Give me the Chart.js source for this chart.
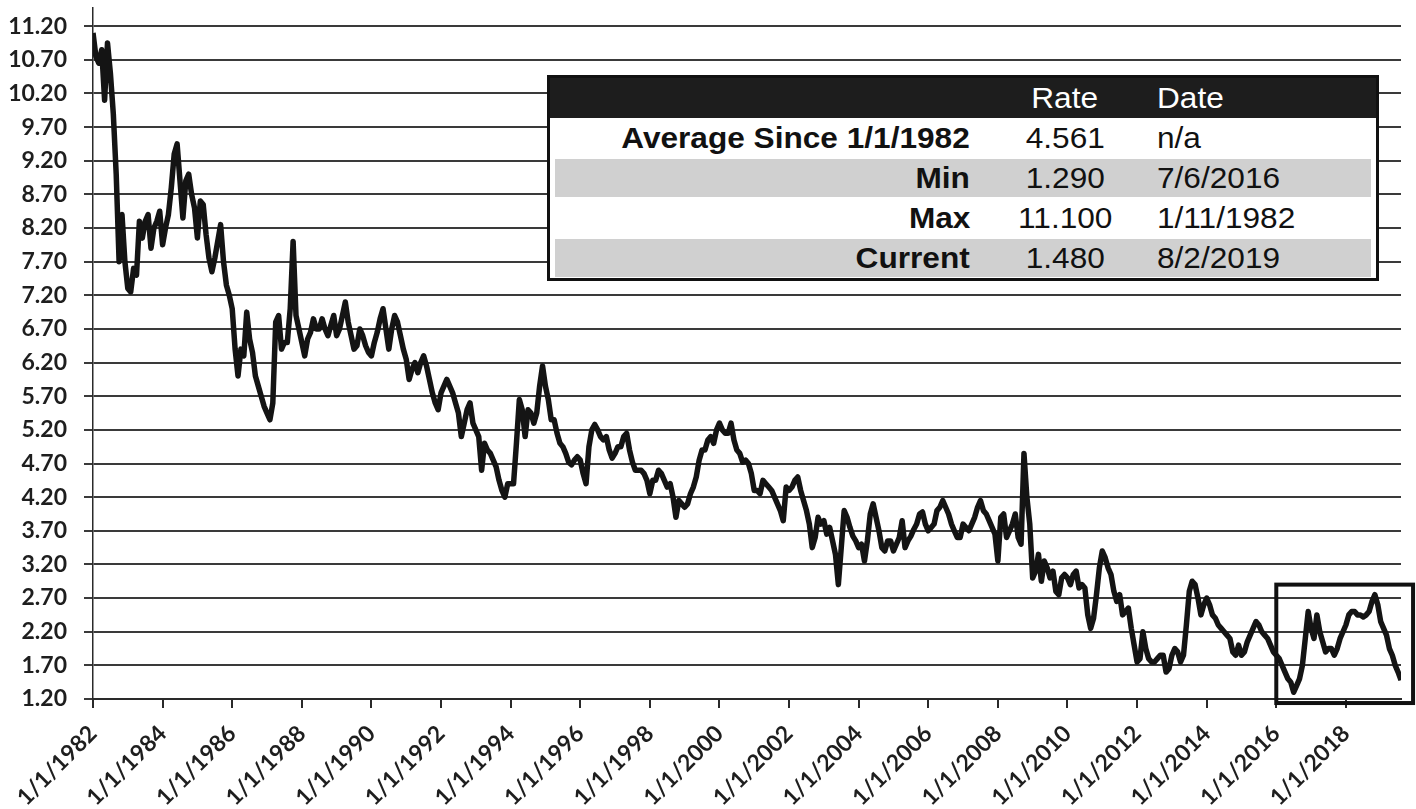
<!DOCTYPE html>
<html>
<head>
<meta charset="utf-8">
<script src="https://cdn.jsdelivr.net/npm/chart.js@4.4.1/dist/chart.umd.min.js"></script>
<style>
  html, body { margin: 0; padding: 0; background: #fff; }
  #wrap { position: relative; width: 1416px; height: 809px; }
  #stats {
    position: absolute; left: 547px; top: 75px; width: 832px; height: 206px;
    border: 3px solid #111; box-sizing: border-box; background: #fff;
    font-family: "Liberation Sans", Arial, sans-serif; font-size: 29px; color: #111;
  }
  .row { position: relative; height: 40px; line-height: 40px; }
  .row.head { background: #1d1d1d; color: #fff; }
  .band { position: absolute; left: 5px; right: 5px; top: 1px; bottom: 1px; background: #d0d0d0; }
  .cell { position: absolute; top: 0; white-space: nowrap; }
  .cell span { display: inline-block; transform: scaleX(1.09); }
  .lab { left: 0; width: 420px; text-align: right; font-weight: bold; }
  .lab span { transform-origin: right center; }
  .rate { left: 465px; width: 100px; text-align: center; }
  .date { left: 607px; }
  .date span { transform-origin: left center; }
</style>
</head>
<body>
<div id="wrap">
  <canvas id="myChart" width="1416" height="809"></canvas>
  <div id="stats"></div>
</div>
<script>
// monthly readings, Jan 1982 .. Aug 2019
var startYear = 1982;
var rates = [
  11.1, 10.75, 10.65, 10.85, 10.1, 10.95, 10.5, 9.9, 9.0, 7.7, 8.4, 7.7,
  7.3, 7.25, 7.6, 7.5, 8.3, 8.05, 8.3, 8.4, 7.9, 8.2, 8.3, 8.45,
  7.95, 8.2, 8.4, 8.8, 9.3, 9.45, 8.9, 8.35, 8.9, 9.0, 8.7, 8.5,
  8.05, 8.6, 8.55, 8.1, 7.75, 7.55, 7.75, 8.0, 8.25, 7.7, 7.35, 7.2,
  7.0, 6.4, 6.0, 6.4, 6.3, 6.95, 6.55, 6.35, 6.0, 5.85, 5.7, 5.55,
  5.45, 5.35, 5.6, 6.8, 6.9, 6.4, 6.5, 6.5, 7.0, 8.0, 6.9, 6.7,
  6.5, 6.3, 6.55, 6.65, 6.85, 6.7, 6.7, 6.85, 6.7, 6.6, 6.75, 6.9,
  6.6, 6.7, 6.9, 7.1, 6.8, 6.6, 6.4, 6.45, 6.7, 6.6, 6.45, 6.35,
  6.3, 6.5, 6.65, 6.85, 7.0, 6.7, 6.4, 6.7, 6.9, 6.8, 6.6, 6.4,
  6.25, 5.95, 6.1, 6.2, 6.05, 6.2, 6.3, 6.15, 5.95, 5.75, 5.6, 5.5,
  5.75, 5.85, 5.95, 5.85, 5.75, 5.6, 5.45, 5.1, 5.3, 5.5, 5.6, 5.3,
  5.2, 5.1, 4.6, 5.0, 4.9, 4.85, 4.75, 4.65, 4.45, 4.3, 4.2, 4.4,
  4.4, 4.4, 5.0, 5.65, 5.5, 5.1, 5.5, 5.45, 5.3, 5.45, 5.85, 6.15,
  5.85, 5.65, 5.35, 5.35, 5.15, 5.0, 4.95, 4.85, 4.72, 4.68, 4.75, 4.8,
  4.75, 4.55, 4.4, 4.95, 5.2, 5.28, 5.2, 5.1, 5.05, 5.1, 4.9, 4.78,
  4.85, 4.95, 4.95, 5.1, 5.15, 4.9, 4.72, 4.6, 4.6, 4.6, 4.55, 4.45,
  4.25, 4.45, 4.45, 4.6, 4.55, 4.45, 4.35, 4.4, 4.2, 3.9, 4.15, 4.1,
  4.05, 4.1, 4.25, 4.35, 4.5, 4.75, 4.9, 4.9, 5.05, 5.1, 5.0, 5.2,
  5.3, 5.2, 5.15, 5.15, 5.3, 5.05, 4.9, 4.85, 4.72, 4.75, 4.7, 4.55,
  4.3, 4.3, 4.25, 4.45, 4.4, 4.35, 4.3, 4.2, 4.1, 4.0, 3.85, 4.35,
  4.3, 4.35, 4.45, 4.5, 4.3, 4.15, 4.0, 3.8, 3.45, 3.6, 3.9, 3.8,
  3.85, 3.65, 3.75, 3.55, 3.35, 2.9, 3.45, 4.0, 3.9, 3.75, 3.62, 3.55,
  3.45, 3.5, 3.25, 3.55, 3.95, 4.1, 3.9, 3.7, 3.45, 3.4, 3.55, 3.55,
  3.4, 3.5, 3.6, 3.85, 3.45, 3.55, 3.62, 3.72, 3.8, 3.95, 3.98, 3.8,
  3.7, 3.75, 3.8, 4.0, 4.05, 4.15, 4.05, 3.95, 3.8, 3.7, 3.6, 3.6,
  3.8, 3.75, 3.7, 3.8, 3.9, 4.05, 4.15, 4.0, 3.95, 3.85, 3.75, 3.65,
  3.25, 3.9, 3.95, 3.6, 3.7, 3.8, 3.95, 3.6, 3.5, 4.85, 4.2, 3.8,
  3.0, 3.1, 3.35, 2.95, 3.25, 3.15, 3.0, 3.1, 2.8, 2.75, 3.0, 3.05,
  3.0, 2.9, 3.05, 3.1, 2.85, 2.9, 2.85, 2.45, 2.25, 2.4, 2.75, 3.15,
  3.4, 3.3, 3.15, 3.05, 2.8, 2.65, 2.75, 2.45, 2.5, 2.55, 2.25, 2.0,
  1.75, 1.8, 2.2, 1.95, 1.8, 1.75, 1.75, 1.8, 1.85, 1.85, 1.6, 1.65,
  1.85, 1.95, 1.9, 1.75, 1.85, 2.3, 2.8, 2.95, 2.9, 2.7, 2.45, 2.6,
  2.7, 2.6, 2.45, 2.4, 2.3, 2.25, 2.2, 2.15, 2.1, 1.9, 1.85, 2.0,
  1.85, 1.9, 2.05, 2.15, 2.25, 2.35, 2.3, 2.2, 2.15, 2.1, 2.0, 1.9,
  1.85, 1.8, 1.7, 1.6, 1.5, 1.45, 1.3, 1.4, 1.5, 1.7, 2.1, 2.5,
  2.25, 2.1, 2.45, 2.2, 2.05, 1.9, 1.95, 1.95, 1.85, 1.95, 2.1, 2.2,
  2.3, 2.45, 2.5, 2.5, 2.45, 2.45, 2.42, 2.45, 2.5, 2.65, 2.75, 2.6,
  2.35, 2.25, 2.15, 1.95, 1.85, 1.7, 1.6, 1.48
];

var xTickYears = [1982, 1984, 1986, 1988, 1990, 1992, 1994, 1996, 1998, 2000,
                  2002, 2004, 2006, 2008, 2010, 2012, 2014, 2016, 2018];
var yTicks = [1.2, 1.7, 2.2, 2.7, 3.2, 3.7, 4.2, 4.7, 5.2, 5.7, 6.2, 6.7,
              7.2, 7.7, 8.2, 8.7, 9.2, 9.7, 10.2, 10.7, 11.2];

// summary table
var statLabels = ['Average Since 1/1/1982', 'Min', 'Max', 'Current'];
var statRates = ['4.561', '1.290', '11.100', '1.480'];
var statDates = ['n/a', '7/6/2016', '1/11/1982', '8/2/2019'];

// highlighted recent period box (in data units)
var boxFrom = 2016, boxTo = 2019.93, boxTop = 2.9, boxBottom = 1.14;

var points = rates.map(function (v, i) { return { x: startYear + i / 12, y: v }; });
var lastX = points[points.length - 1].x;

// build table
var html = '<div class="row head"><div class="cell rate"><span>Rate</span></div>' +
           '<div class="cell date"><span>Date</span></div></div>';
for (var i = 0; i < statLabels.length; i++) {
  html += '<div class="row">' + (i % 2 ? '<div class="band"></div>' : '') +
    '<div class="cell lab"><span>' + statLabels[i] + '</span></div>' +
    '<div class="cell rate"><span>' + statRates[i] + '</span></div>' +
    '<div class="cell date"><span>' + statDates[i] + '</span></div></div>';
}
document.getElementById('stats').innerHTML = html;

var boxPlugin = {
  id: 'boxPlugin',
  afterDatasetsDraw: function (chart) {
    var xs = chart.scales.x, ys = chart.scales.y, c = chart.ctx;
    var x1 = xs.getPixelForValue(boxFrom), x2 = xs.getPixelForValue(boxTo);
    var y1 = ys.getPixelForValue(boxTop), y2 = ys.getPixelForValue(boxBottom);
    c.save();
    c.strokeStyle = '#111';
    c.lineWidth = 4;
    c.strokeRect(x1, y1, x2 - x1, y2 - y1);
    c.restore();
  }
};

var tickFont = { family: 'Lato, "Open Sans", sans-serif', size: 23, weight: 'bold' };

var ctx = document.getElementById('myChart').getContext('2d');
var myChart = new Chart(ctx, {
  type: 'line',
  data: {
    datasets: [{
      data: points,
      borderColor: '#141414',
      borderWidth: 5.5,
      pointRadius: 0,
      tension: 0,
      borderJoinStyle: 'round'
    }]
  },
  options: {
    responsive: false,
    animation: false,
    layout: { padding: { top: 8, right: 15, left: 0, bottom: 0 } },
    plugins: { legend: { display: false }, tooltip: { enabled: false } },
    scales: {
      x: {
        type: 'linear',
        min: startYear,
        max: lastX,
        afterBuildTicks: function (s) { s.ticks = xTickYears.map(function (v) { return { value: v }; }); },
        afterFit: function (s) { s.height = 110; s.paddingLeft = 0; s.paddingRight = 0; },
        ticks: {
          autoSkip: false, minRotation: 45, maxRotation: 45, padding: 12,
          color: '#1e1e1e', font: tickFont,
          callback: function (v) { return '1/1/' + v; }
        },
        grid: { drawOnChartArea: false, drawTicks: true, tickLength: 9, color: '#2a2a2a', lineWidth: 2 },
        border: { display: true, color: '#2a2a2a', width: 2 }
      },
      y: {
        min: 1.2,
        max: 11.47,
        afterBuildTicks: function (s) { s.ticks = yTicks.map(function (v) { return { value: v }; }); },
        afterFit: function (s) { s.width = 93; s.paddingTop = 0; s.paddingBottom = 0; },
        ticks: {
          padding: 17, color: '#1e1e1e', font: tickFont,
          callback: function (v) { return v.toFixed(2); }
        },
        grid: { color: '#3a3a3a', lineWidth: 2, tickLength: 9 },
        border: { display: true, color: '#2a2a2a', width: 1.5 }
      }
    }
  },
  plugins: [boxPlugin]
});
</script>
</body>
</html>
